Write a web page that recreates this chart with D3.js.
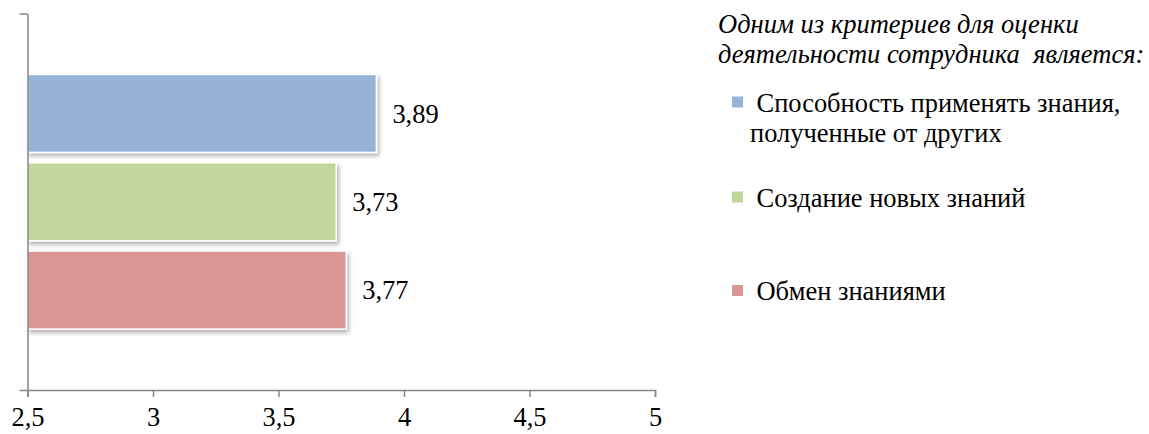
<!DOCTYPE html>
<html>
<head>
<meta charset="utf-8">
<script src="https://cdn.jsdelivr.net/npm/d3@7"></script>
<style>
  html, body { margin: 0; padding: 0; background: #fff; }
  svg { display: block; }
</style>
</head>
<body>
<svg id="chart" width="1149" height="434"></svg>
<script>
// Data
const series = ["Способность применять знания, полученные от других", "Создание новых знаний", "Обмен знаниями"];
const legendLines = [["Способность применять знания,", "полученные от других"], ["Создание новых знаний"], ["Обмен знаниями"]];
const values = [3.89, 3.73, 3.77];
const colors = ["#95B3D7", "#C3D69B", "#D99694"];
const xTicks = [2.5, 3, 3.5, 4, 4.5, 5];
const legendTitle = ["Одним из критериев для оценки", "деятельности сотрудника  является:"];

const SERIF = "'Liberation Serif', 'Times New Roman', serif";
const serif = sel => sel.style("font-family", SERIF, "important");

const svg = d3.select("#chart");

// Pick font sizes so the main text runs keep their widths
function fitSize(str, width, italic) {
  const t = svg.append("text").attr("font-size", 100).text(str);
  serif(t);
  if (italic) t.attr("font-style", "italic");
  const w = t.node().getComputedTextLength();
  t.remove();
  return w > 0 ? Math.max(20, Math.min(30, 100 * width / w)) : 26;
}
const FS = fitSize("Способность применять знания,", 364, false);
const FS_T = fitSize("Одним из критериев для оценки", 361, true);

const ru = d3.formatLocale({ decimal: ",", thousands: " ", grouping: [3], currency: ["", ""] });
const fmtTick = v => ru.format("~g")(v);
const fmtVal = ru.format(".2f");

const plot = { left: 27.5, right: 655, top: 13.5, bottom: 390 };

const x = d3.scaleLinear().domain([2.5, 5]).range([plot.left, plot.right]);
const y = d3.scaleBand().domain(series).range([plot.top, plot.bottom])
  .paddingInner(0.117).paddingOuter(0.69);

// Drop shadow for bars
const defs = svg.append("defs");
const f = defs.append("filter").attr("id", "shadow")
  .attr("x", "-5%").attr("y", "-10%").attr("width", "115%").attr("height", "130%");
f.append("feDropShadow").attr("dx", 2).attr("dy", 3).attr("stdDeviation", 2)
  .attr("flood-color", "#000").attr("flood-opacity", 0.3);

// Bars
svg.append("g").selectAll("rect").data(series).join("rect")
  .attr("x", x(2.5))
  .attr("y", d => y(d))
  .attr("width", (d, i) => x(values[i]) - x(2.5))
  .attr("height", y.bandwidth())
  .attr("fill", (d, i) => colors[i])
  .attr("stroke", "#fff")
  .attr("stroke-width", 1.5)
  .attr("filter", "url(#shadow)");

// Value labels
svg.append("g").selectAll("text").data(series).join("text")
  .attr("x", (d, i) => x(values[i]) + 16)
  .attr("y", d => y(d) + y.bandwidth() / 2)
  .attr("dy", "0.35em")
  .attr("font-size", FS)
  .attr("fill", "#000")
  .call(serif)
  .text((d, i) => fmtVal(values[i]));

// X axis
const xAxis = d3.axisBottom(x).tickValues(xTicks).tickFormat(fmtTick).tickSize(7).tickPadding(10);
const gx = svg.append("g").attr("transform", `translate(0,${plot.bottom})`).call(xAxis);
gx.attr("font-size", FS);
gx.select(".domain").attr("stroke", "#868686").attr("stroke-width", 1.5);
gx.selectAll(".tick line").attr("stroke", "#868686").attr("stroke-width", 1.5);
gx.selectAll(".tick text").attr("font-size", FS).attr("fill", "#000").call(serif);

// Y axis (single category, ticks at its bounds)
const yCat = d3.scaleLinear().domain([0, 1]).range([plot.bottom, plot.top]);
const yAxis = d3.axisLeft(yCat).tickValues([0, 1]).tickFormat("").tickSize(8).tickSizeOuter(0);
const gy = svg.append("g").attr("transform", `translate(${plot.left},0)`).call(yAxis);
gy.select(".domain").attr("stroke", "#868686").attr("stroke-width", 1.5);
gy.selectAll(".tick line").attr("stroke", "#868686").attr("stroke-width", 1.5);

// Legend title
const title = svg.append("text").attr("font-size", FS_T)
  .attr("xml:space", "preserve")
  .attr("font-style", "italic").attr("fill", "#000").call(serif);
legendTitle.forEach((t, i) => {
  title.append("tspan").attr("x", 718).attr("y", 33 + i * 30).text(t);
});

// Legend items
const legendY = [111.5, 206.5, 300];
const leg = svg.append("g");
series.forEach((s, i) => {
  leg.append("rect").attr("x", 732).attr("y", legendY[i] - 15)
    .attr("width", 11).attr("height", 11).attr("fill", colors[i]);
  const t = leg.append("text").attr("font-size", FS).attr("fill", "#000").call(serif);
  legendLines[i].forEach((line, j) => {
    t.append("tspan").attr("x", j === 0 ? 756.5 : 750).attr("y", legendY[i] + j * 30).text(line);
  });
});
</script>
</body>
</html>
